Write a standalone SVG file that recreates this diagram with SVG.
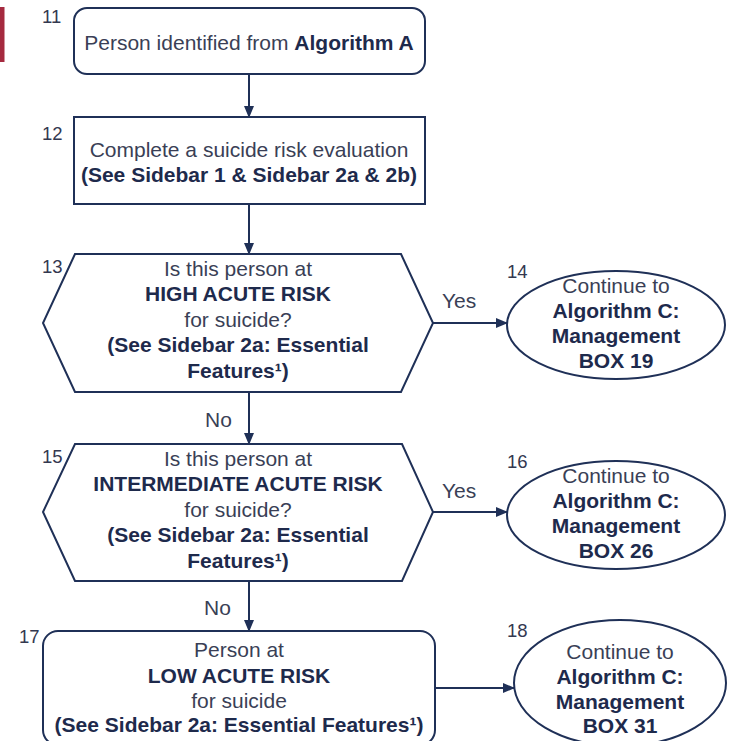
<svg xmlns="http://www.w3.org/2000/svg" width="729" height="741" viewBox="0 0 729 741">
  <style>
    .shape { fill: #ffffff; stroke: #1f3057; stroke-width: 2; }
    .edge { fill: none; stroke: #1f3057; stroke-width: 2; }
    text { font-family: "Liberation Sans", Arial, sans-serif; font-size: 21px; fill: #3a3f56; }
    .c { text-anchor: middle; }
    .b { font-weight: bold; fill: #1e2a4c; }
    .num { font-size: 18.5px; fill: #333850; }
    .lbl { fill: #3a3f56; }
  </style>
  <defs>
    <marker id="arrow" viewBox="0 0 12 12" refX="11" refY="6" markerWidth="12" markerHeight="12" markerUnits="userSpaceOnUse" orient="auto">
      <path d="M0,1 L12,6 L0,11 Z" fill="#1f3057"/>
    </marker>
  </defs>

  <rect id="page-tab" x="0" y="7" width="4.5" height="55" fill="#a52a3f"/>

  <!-- connectors -->
  <g id="connectors">
    <line class="edge" x1="249" y1="74" x2="249" y2="117" marker-end="url(#arrow)"/>
    <line class="edge" x1="249" y1="204" x2="249" y2="254" marker-end="url(#arrow)"/>
    <line class="edge" x1="433" y1="323" x2="507" y2="323" marker-end="url(#arrow)"/>
    <text class="lbl" x="442" y="308">Yes</text>
    <line class="edge" x1="249" y1="392" x2="249" y2="444" marker-end="url(#arrow)"/>
    <text class="lbl" x="205" y="427">No</text>
    <line class="edge" x1="433" y1="512" x2="507" y2="512" marker-end="url(#arrow)"/>
    <text class="lbl" x="442" y="498">Yes</text>
    <line class="edge" x1="249" y1="581" x2="249" y2="631" marker-end="url(#arrow)"/>
    <text class="lbl" x="204" y="615">No</text>
    <line class="edge" x1="435" y1="688" x2="514" y2="688" marker-end="url(#arrow)"/>
  </g>

  <!-- 11: entry -->
  <g id="node-11">
    <text class="num" x="42" y="23">11</text>
    <rect class="shape" x="74" y="8" width="351" height="66" rx="13"/>
    <text class="c" x="249" y="50">Person identified from <tspan class="b">Algorithm A</tspan></text>
  </g>

  <!-- 12: evaluation -->
  <g id="node-12">
    <text class="num" x="42" y="140">12</text>
    <rect class="shape" x="74" y="117" width="351" height="87"/>
    <text class="c" x="249" y="157">Complete a suicide risk evaluation</text>
    <text class="c b" x="249" y="182">(See Sidebar 1 &amp; Sidebar 2a &amp; 2b)</text>
  </g>

  <!-- 13: high acute risk decision -->
  <g id="node-13">
    <polygon class="shape" points="75,254 401,254 433,323 401,392 75,392 43,323"/>
    <text class="num" x="42" y="273">13</text>
    <text class="c" x="238" y="276">Is this person at</text>
    <text class="c b" x="238" y="301">HIGH ACUTE RISK</text>
    <text class="c" x="238" y="327">for suicide?</text>
    <text class="c b" x="238" y="352">(See Sidebar 2a: Essential</text>
    <text class="c b" x="238" y="378">Features¹)</text>
  </g>

  <!-- 14 -->
  <g id="node-14">
    <ellipse class="shape" cx="616" cy="325" rx="109" ry="54"/>
    <text class="num" x="507" y="278">14</text>
    <text class="c" x="616" y="293">Continue to</text>
    <text class="c b" x="616" y="318">Algorithm C:</text>
    <text class="c b" x="616" y="343">Management</text>
    <text class="c b" x="616" y="368">BOX 19</text>
  </g>

  <!-- 15: intermediate acute risk decision -->
  <g id="node-15">
    <polygon class="shape" points="75,444 402,444 433,512 402,581 75,581 43,512"/>
    <text class="num" x="42" y="463">15</text>
    <text class="c" x="238" y="466">Is this person at</text>
    <text class="c b" x="238" y="491">INTERMEDIATE ACUTE RISK</text>
    <text class="c" x="238" y="517">for suicide?</text>
    <text class="c b" x="238" y="542">(See Sidebar 2a: Essential</text>
    <text class="c b" x="238" y="568">Features¹)</text>
  </g>

  <!-- 16 -->
  <g id="node-16">
    <ellipse class="shape" cx="616" cy="515" rx="109" ry="54"/>
    <text class="num" x="507" y="468">16</text>
    <text class="c" x="616" y="483">Continue to</text>
    <text class="c b" x="616" y="508">Algorithm C:</text>
    <text class="c b" x="616" y="533">Management</text>
    <text class="c b" x="616" y="558">BOX 26</text>
  </g>

  <!-- 17: low acute risk -->
  <g id="node-17">
    <text class="num" x="19" y="643">17</text>
    <rect class="shape" x="43" y="631" width="392" height="114" rx="15"/>
    <text class="c" x="239" y="657">Person at</text>
    <text class="c b" x="239" y="683">LOW ACUTE RISK</text>
    <text class="c" x="239" y="708">for suicide</text>
    <text class="c b" x="239" y="732">(See Sidebar 2a: Essential Features¹)</text>
  </g>

  <!-- 18 -->
  <g id="node-18">
    <ellipse class="shape" cx="620" cy="683" rx="106" ry="63"/>
    <text class="num" x="507" y="637">18</text>
    <text class="c" x="620" y="659">Continue to</text>
    <text class="c b" x="620" y="684">Algorithm C:</text>
    <text class="c b" x="620" y="709">Management</text>
    <text class="c b" x="620" y="733">BOX 31</text>
  </g>
</svg>
